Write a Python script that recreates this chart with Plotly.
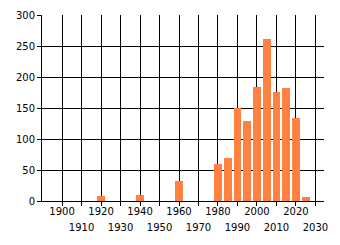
import plotly.graph_objects as go

years = [1920, 1940, 1960, 1980, 1985, 1990, 1995, 2000, 2005, 2010, 2015, 2020, 2025]
counts = [8, 10, 32, 60, 69, 150, 129, 184, 261, 176, 182, 134, 6]
even_ticks = [1900, 1920, 1940, 1960, 1980, 2000, 2020]
odd_ticks = [1910, 1930, 1950, 1970, 1990, 2010, 2030]
y_ticks = [0, 50, 100, 150, 200, 250, 300]

font = dict(family="DejaVu Sans", size=10, color="black")

fig = go.Figure()
fig.add_trace(go.Bar(x=years, y=counts, width=4, marker=dict(color="#FF8040", line=dict(width=0)),
                     xaxis="x", yaxis="y", showlegend=False))
# invisible trace for secondary axis (odd-decade labels + tick marks)
fig.add_trace(go.Scatter(x=[odd_ticks[0]], y=[0], mode="markers", marker=dict(opacity=0),
                         xaxis="x2", yaxis="y", showlegend=False, hoverinfo="skip"))

xr = [1889.7, 2034.4]
all_ticks = sorted(even_ticks + odd_ticks)
fig.update_layout(
    width=340, height=245,
    margin=dict(l=42, r=16, t=15, b=44, autoexpand=False),
    paper_bgcolor="white", plot_bgcolor="white",
    font=font,
    bargap=0,
    xaxis=dict(range=xr, tickmode="array", tickvals=all_ticks,
               ticktext=[str(v) if v in even_ticks else "" for v in all_ticks],
               showgrid=True, gridcolor="black", gridwidth=1,
               ticks="outside", ticklen=1, tickcolor="black",
               showline=True, linecolor="black", linewidth=1,
               zeroline=False, tickfont=font, automargin=False),
    xaxis2=dict(range=xr, overlaying="x", matches="x", side="bottom",
                tickmode="array", tickvals=all_ticks,
                ticktext=[str(v) if v in odd_ticks else "" for v in all_ticks],
                showgrid=False, ticks="outside", ticklen=4, tickcolor="black",
                showline=False, zeroline=False,
                ticklabelstandoff=13, tickfont=font, automargin=False),
    yaxis=dict(range=[0, 300], tickmode="array", tickvals=y_ticks,
               showgrid=True, gridcolor="black", gridwidth=1,
               ticks="outside", ticklen=4, tickcolor="black",
               showline=True, linecolor="black", linewidth=1,
               zeroline=False, tickfont=font, automargin=False),
)

fig.write_html("out.html")
